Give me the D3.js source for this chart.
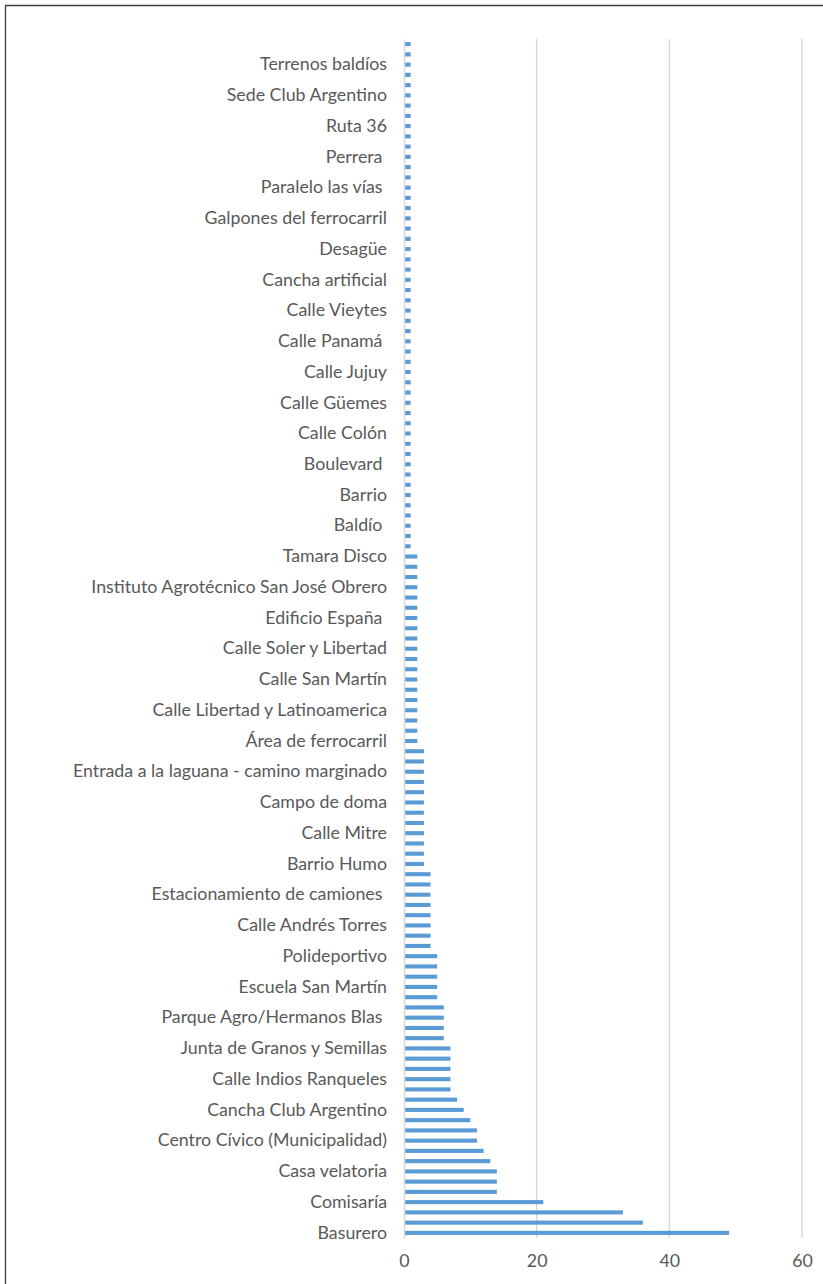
<!DOCTYPE html>
<html>
<head>
<meta charset="utf-8">
<script src="https://cdn.jsdelivr.net/npm/d3@7"></script>
<style>
  body { margin: 0; background: #fff; }
  text { font-family: Lato, "Open Sans", sans-serif; }
</style>
</head>
<body>
<svg id="chart"></svg>
<script>
// values from the bottom bar (Basurero) to the top bar
const values = [
  49, 36, 33, 21, 14, 14, 14, 13, 12, 11, 11, 10, 9, 8, 7, 7, 7, 7, 7, 6, 6, 6, 6,
  5, 5, 5, 5, 5,
  4, 4, 4, 4, 4, 4, 4, 4,
  3, 3, 3, 3, 3, 3, 3, 3, 3, 3, 3, 3,
  2, 2, 2, 2, 2, 2, 2, 2, 2, 2, 2, 2, 2, 2, 2, 2, 2, 2, 2,
  1, 1, 1, 1, 1, 1, 1, 1, 1, 1, 1, 1, 1, 1, 1, 1, 1, 1, 1, 1, 1, 1, 1, 1, 1,
  1, 1, 1, 1, 1, 1, 1, 1, 1, 1, 1, 1, 1, 1, 1, 1, 1, 1, 1, 1, 1, 1, 1, 1, 1
];

// only every third category is labelled, bottom to top
const tickLabels = [
  'Basurero', 'Comisaría', 'Casa velatoria', 'Centro Cívico (Municipalidad)',
  'Cancha Club Argentino', 'Calle Indios Ranqueles', 'Junta de Granos y Semillas',
  'Parque Agro/Hermanos Blas ', 'Escuela San Martín', 'Polideportivo',
  'Calle Andrés Torres', 'Estacionamiento de camiones ', 'Barrio Humo', 'Calle Mitre',
  'Campo de doma', 'Entrada a la laguana - camino marginado', 'Área de ferrocarril',
  'Calle Libertad y Latinoamerica', 'Calle San Martín', 'Calle Soler y Libertad',
  'Edificio España ', 'Instituto Agrotécnico San José Obrero', 'Tamara Disco',
  'Baldío ', 'Barrio', 'Boulevard ', 'Calle Colón', 'Calle Güemes', 'Calle Jujuy',
  'Calle Panamá ', 'Calle Vieytes', 'Cancha artificial', 'Desagüe',
  'Galpones del ferrocarril', 'Paralelo las vías ', 'Perrera ', 'Ruta 36',
  'Sede Club Argentino', 'Terrenos baldíos'
];

const xTicks = [0, 20, 40, 60];

const W = 823, H = 1284;
const plotLeft = 404, plotRight = 802, plotTop = 39, plotBottom = 1238;

const svg = d3.select('#chart').attr('width', W).attr('height', H);

// outer frame (cut at right and bottom)
svg.append('path')
  .attr('d', `M5.5,${H + 5}V5.5H${W + 5}`)
  .attr('fill', 'none')
  .attr('stroke', '#3f3f3f')
  .attr('stroke-width', 1.3);

const x = d3.scaleLinear().domain([0, 60]).range([plotLeft, plotRight]);
const y = d3.scaleBand()
  .domain(d3.range(values.length))
  .range([plotBottom, plotTop])
  .paddingInner(0.6)
  .paddingOuter(0.3);

// gridlines
svg.append('g')
  .selectAll('line')
  .data(xTicks.slice(1))
  .enter()
  .append('line')
  .attr('x1', d => x(d)).attr('x2', d => x(d))
  .attr('y1', plotTop).attr('y2', plotBottom)
  .attr('stroke', '#d9d9d9')
  .attr('stroke-width', 1.5);

// bars
svg.append('g')
  .selectAll('rect')
  .data(values)
  .enter()
  .append('rect')
  .attr('x', x(0))
  .attr('y', (d, i) => y(i))
  .attr('width', d => x(d) - x(0))
  .attr('height', y.bandwidth())
  .attr('fill', '#5b9bd5');

// category axis
const yAxis = d3.axisLeft(y)
  .tickValues(d3.range(0, values.length, 3))
  .tickFormat(i => tickLabels[i / 3])
  .tickSize(0)
  .tickPadding(17);

const gy = svg.append('g')
  .attr('transform', `translate(${x(0)},0)`)
  .call(yAxis);
gy.select('.domain').attr('stroke', '#d9d9d9').attr('stroke-width', 1.5);
gy.selectAll('text')
  .attr('fill', '#595959')
  .style('white-space', 'pre') // keep the trailing blanks of some labels
  .style('font-size', '17.8px');

// value axis
const xAxis = d3.axisBottom(x)
  .tickValues(xTicks)
  .tickSize(0)
  .tickPadding(16);

const gx = svg.append('g')
  .attr('transform', `translate(0,${plotBottom})`)
  .call(xAxis);
gx.select('.domain').remove();
gx.selectAll('text')
  .attr('fill', '#595959')
  .style('font-size', '17.8px');
</script>
</body>
</html>
